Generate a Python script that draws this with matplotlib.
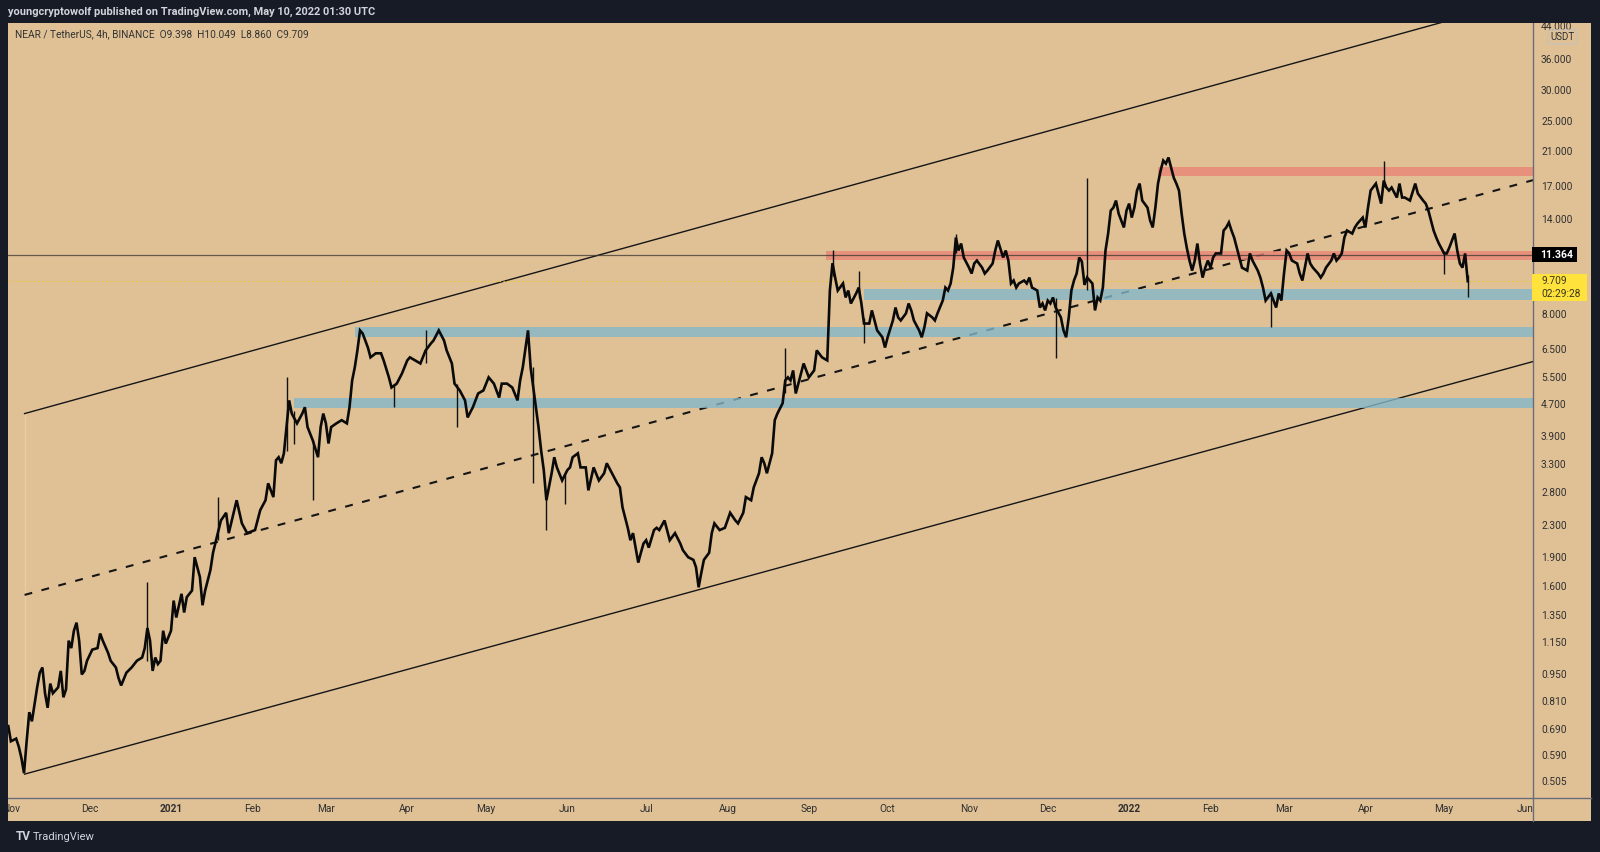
import matplotlib
matplotlib.use("Agg")
import matplotlib.pyplot as plt
import matplotlib.dates as mdates
import matplotlib.transforms as mtransforms
from matplotlib.patches import Rectangle, FancyBboxPatch
from matplotlib.lines import Line2D
from matplotlib.ticker import NullLocator
import numpy as np
import pandas as pd

plt.rcParams['font.family'] = ['Roboto', 'DejaVu Sans']

# ---------------- data ----------------
days_2020_10 = [31]
close_2020_10 = [0.70]
days_2020_11 = [1, 3, 4, 5, 6, 7, 8, 9, 11, 12, 13, 14, 15, 16, 17, 19, 20, 21, 22, 23, 24, 25, 26, 27, 28, 29, 30]
close_2020_11 = [0.64, 0.65, 0.62, 0.58, 0.53, 0.64, 0.76, 0.72, 0.88, 0.96, 0.99, 0.85, 0.78, 0.90, 0.85, 0.88, 0.97, 0.83, 0.87, 1.16, 1.11, 1.23, 1.29, 1.16, 0.95, 0.97, 1.03]
days_2020_12 = [2, 4, 5, 6, 8, 9, 11, 12, 13, 15, 17, 19, 21, 22, 23, 24, 25, 26, 27, 28, 29, 30]
close_2020_12 = [1.10, 1.11, 1.21, 1.16, 1.08, 1.03, 0.99, 0.93, 0.89, 0.96, 0.99, 1.03, 1.05, 1.11, 1.25, 1.16, 0.97, 1.05, 1.01, 1.03, 1.23, 1.14]
days_2021_01 = [1, 2, 3, 5, 6, 7, 9, 10, 12, 13, 14, 16, 17, 18, 20, 22, 23, 26, 28, 30]
close_2021_01 = [1.23, 1.47, 1.33, 1.53, 1.37, 1.50, 1.56, 1.90, 1.69, 1.43, 1.56, 1.76, 1.95, 2.08, 2.36, 2.47, 2.19, 2.66, 2.32, 2.19]
days_2021_02 = [2, 4, 6, 7, 9, 10, 11, 12, 13, 15, 16, 18, 20, 21, 22, 24, 26, 27, 28]
close_2021_02 = [2.23, 2.51, 2.66, 2.94, 2.71, 3.37, 3.43, 3.31, 3.51, 4.80, 4.44, 4.19, 4.44, 4.61, 4.10, 3.79, 3.43, 4.10, 4.44]
days_2021_03 = [1, 2, 3, 5, 7, 9, 10, 11, 12, 13, 14, 15, 17, 18, 20, 22, 23, 25, 26, 28, 30]
close_2021_03 = [4.19, 3.72, 4.10, 4.19, 4.27, 4.19, 4.61, 5.40, 5.83, 6.45, 7.26, 7.13, 6.56, 6.19, 6.34, 6.34, 6.08, 5.50, 5.18, 5.30, 5.63]
days_2021_04 = [1, 2, 4, 6, 8, 10, 11, 13, 15, 16, 18, 19, 21, 23, 24, 26, 28, 30]
close_2021_04 = [6.08, 6.19, 6.08, 5.97, 6.45, 6.72, 6.84, 7.26, 6.84, 6.45, 5.97, 5.30, 5.09, 4.80, 4.34, 4.61, 5.00, 5.09]
days_2021_05 = [2, 4, 6, 7, 9, 11, 13, 14, 15, 17, 18, 20, 21, 22, 23, 24, 26, 27, 28, 30]
close_2021_05 = [5.50, 5.30, 4.88, 5.30, 5.30, 5.18, 4.80, 5.40, 5.83, 7.26, 5.83, 4.61, 4.10, 3.57, 3.18, 2.66, 3.12, 3.43, 3.23, 2.99]
days_2021_06 = [1, 2, 3, 5, 6, 8, 9, 11, 13, 15, 16, 18, 20, 21, 22, 24, 25, 26, 28, 29, 30]
close_2021_06 = [3.18, 3.23, 3.43, 3.51, 3.23, 3.23, 2.82, 3.23, 2.99, 3.12, 3.31, 3.12, 2.94, 2.87, 2.55, 2.26, 2.10, 2.19, 1.84, 1.95, 2.06]
days_2021_07 = [1, 2, 4, 5, 6, 8, 10, 12, 14, 15, 17, 19, 20, 21, 22, 23, 25, 26, 27, 29, 31]
close_2021_07 = [2.10, 2.01, 2.23, 2.26, 2.23, 2.36, 2.10, 2.19, 2.06, 1.98, 1.90, 1.87, 1.79, 1.59, 1.73, 1.87, 1.95, 2.19, 2.32, 2.23, 2.26]
days_2021_08 = [2, 4, 5, 7, 8, 10, 11, 13, 14, 15, 16, 18, 19, 20, 22, 23, 24, 25, 26, 27, 30]
close_2021_08 = [2.47, 2.36, 2.32, 2.47, 2.71, 2.66, 2.87, 3.12, 3.43, 3.31, 3.12, 3.51, 4.27, 4.44, 4.72, 5.40, 5.50, 5.40, 5.73, 5.00, 5.97]
days_2021_09 = [1, 3, 4, 6, 8, 9, 10, 11, 12, 14, 15, 16, 17, 19, 20, 21, 22, 24, 25, 26, 27, 29, 30]
close_2021_09 = [5.50, 5.73, 6.45, 6.19, 6.08, 9.19, 10.80, 9.92, 9.19, 9.58, 8.82, 9.19, 8.51, 9.03, 9.35, 8.51, 7.56, 7.56, 8.17, 7.70, 7.26, 6.97, 6.56]
days_2021_10 = [1, 3, 4, 5, 6, 8, 9, 10, 11, 13, 14, 15, 16, 18, 19, 20, 22, 23, 24, 25, 26, 27, 28, 29, 30]
close_2021_10 = [6.97, 7.70, 8.31, 7.84, 7.70, 8.03, 8.51, 8.17, 7.70, 7.26, 6.97, 7.39, 8.03, 7.84, 7.70, 8.03, 8.66, 9.35, 9.19, 9.58, 10.52, 12.57, 11.64, 12.13, 11.17]
days_2021_11 = [1, 2, 3, 4, 6, 7, 8, 10, 11, 12, 14, 15, 16, 17, 18, 19, 20, 22, 23, 24, 25, 27, 28, 29, 30]
close_2021_11 = [10.52, 10.16, 10.78, 10.97, 10.52, 10.16, 10.34, 10.78, 11.64, 12.35, 11.17, 11.64, 10.97, 9.58, 9.75, 9.35, 9.58, 9.75, 9.58, 9.92, 9.35, 9.19, 8.31, 8.51, 8.17]
days_2021_12 = [1, 2, 3, 4, 6, 7, 8, 9, 10, 11, 12, 13, 14, 15, 16, 18, 19, 20, 21, 22, 23, 24, 25, 26, 27, 28, 30, 31]
close_2021_12 = [8.66, 8.51, 8.82, 8.31, 7.84, 7.26, 6.97, 7.84, 9.19, 9.75, 10.16, 11.17, 10.90, 9.50, 9.92, 9.58, 8.17, 8.82, 8.66, 9.35, 11.64, 12.87, 14.74, 15.00, 15.64, 14.48, 13.34, 14.74]
days_2022_01 = [1, 2, 3, 4, 5, 6, 8, 9, 10, 11, 12, 13, 14, 15, 16, 17, 18, 19, 20, 21, 22, 23, 24, 25, 26, 27, 28, 29, 30, 31]
close_2022_01 = [15.36, 14.14, 15.00, 16.59, 17.29, 15.64, 15.00, 13.90, 13.34, 15.00, 17.29, 18.67, 19.81, 19.46, 20.17, 19.00, 17.90, 17.29, 16.59, 14.48, 12.87, 11.80, 10.97, 10.34, 10.97, 12.13, 10.78, 9.92, 10.52, 10.97]
days_2022_02 = [1, 2, 3, 5, 6, 7, 8, 9, 10, 11, 12, 13, 15, 16, 17, 19, 20, 21, 22, 24, 26, 27, 28]
close_2022_02 = [10.52, 11.17, 11.44, 11.44, 13.10, 13.34, 13.74, 13.10, 12.57, 11.85, 11.17, 10.52, 10.34, 11.44, 10.97, 10.34, 9.92, 9.35, 8.66, 9.03, 8.31, 9.03, 8.66]
days_2022_03 = [1, 2, 3, 4, 6, 7, 8, 10, 11, 12, 14, 15, 16, 17, 19, 20, 21, 22, 23, 24, 25, 27, 28, 29, 31]
close_2022_03 = [10.16, 11.64, 11.44, 10.97, 10.78, 10.16, 9.75, 11.44, 10.78, 10.52, 10.16, 9.92, 10.16, 10.52, 10.97, 11.44, 10.97, 11.17, 11.44, 12.57, 13.10, 12.87, 13.34, 13.66, 14.14]
days_2022_04 = [1, 2, 3, 5, 6, 7, 8, 9, 10, 11, 13, 14, 15, 16, 18, 20, 21, 23, 24, 25, 26, 27, 28, 29]
close_2022_04 = [13.34, 15.00, 16.59, 17.29, 16.30, 15.36, 17.60, 16.89, 16.59, 16.89, 15.92, 17.29, 15.92, 15.92, 15.64, 17.29, 16.30, 15.64, 15.36, 14.74, 13.90, 13.10, 12.57, 12.13]
days_2022_05 = [1, 2, 3, 4, 5, 6, 7, 8, 9, 10]
close_2022_05 = [11.44, 11.44, 11.85, 12.35, 12.87, 11.64, 10.78, 10.52, 11.44, 9.709]

# spikes (wicks) visible on the chart
wick_dates = ['2020-12-23', '2021-01-19', '2021-02-14', '2021-02-17', '2021-02-24', '2021-03-27',
              '2021-04-08', '2021-04-20', '2021-05-19', '2021-05-24', '2021-05-31', '2021-08-23',
              '2021-09-10', '2021-09-20', '2021-09-22', '2021-10-27', '2021-12-04', '2021-12-16',
              '2022-02-24', '2022-04-08', '2022-05-01', '2022-05-10']
wick_lows = [1.03, 2.10, 3.55, 3.72, 2.66, 4.61, 6.00, 4.10, 2.94, 2.23, 2.60, 5.00,
             10.0, 8.80, 6.72, 11.5, 6.15, 9.20, 7.39, 16.9, 10.16, 8.86]
wick_highs = [1.64, 2.71, 5.50, 4.50, 3.80, 5.30, 7.26, 5.30, 5.83, 2.80, 3.10, 6.56,
              11.70, 10.34, 7.80, 12.87, 8.80, 17.9, 9.10, 19.7, 11.60, 10.05]

# parallel channel (start point and a reference date on each line)
channel_start = '2020-11-06 05:00'
channel_ref = '2022-05-01'
upper_prices = [4.44, 45.0]
middle_prices = [1.52, 15.27]
lower_prices = [0.527, 5.23]

# support / resistance zones
zone_start = ['2022-01-12', '2021-09-07 12:00', '2021-09-22', '2021-03-12', '2021-02-17']
zone_low = [18.13, 10.98, 8.71, 6.97, 4.58]
zone_high = [19.12, 11.60, 9.25, 7.39, 4.86]
zone_kind = ['res', 'res', 'sup', 'sup', 'sup']

level_price = 11.364
last_price = 9.709
countdown = '02:29:28'

price_ticks = [44, 36, 30, 25, 21, 17, 14, 8, 6.5, 5.5, 4.7, 3.9, 3.3, 2.8, 2.3, 1.9, 1.6,
               1.35, 1.15, 0.95, 0.81, 0.69, 0.59, 0.505]
month_ticks = ['2020-11-01', '2020-12-01', '2021-01-01', '2021-02-01', '2021-03-01', '2021-04-01',
               '2021-05-01', '2021-06-01', '2021-07-01', '2021-08-01', '2021-09-01', '2021-10-01',
               '2021-11-01', '2021-12-01', '2022-01-01', '2022-02-01', '2022-03-01', '2022-04-01',
               '2022-05-01', '2022-06-01']
month_labels = ['Nov', 'Dec', '2021', 'Feb', 'Mar', 'Apr', 'May', 'Jun', 'Jul', 'Aug', 'Sep', 'Oct',
                'Nov', 'Dec', '2022', 'Feb', 'Mar', 'Apr', 'May', 'Jun']

header_text = 'youngcryptowolf published on TradingView.com, May 10, 2022 01:30 UTC'
symbol_text = 'NEAR / TetherUS, 4h, BINANCE  O9.398  H10.049  L8.860  C9.709'

months = [
    ('2020-10', days_2020_10, close_2020_10), ('2020-11', days_2020_11, close_2020_11),
    ('2020-12', days_2020_12, close_2020_12), ('2021-01', days_2021_01, close_2021_01),
    ('2021-02', days_2021_02, close_2021_02), ('2021-03', days_2021_03, close_2021_03),
    ('2021-04', days_2021_04, close_2021_04), ('2021-05', days_2021_05, close_2021_05),
    ('2021-06', days_2021_06, close_2021_06), ('2021-07', days_2021_07, close_2021_07),
    ('2021-08', days_2021_08, close_2021_08), ('2021-09', days_2021_09, close_2021_09),
    ('2021-10', days_2021_10, close_2021_10), ('2021-11', days_2021_11, close_2021_11),
    ('2021-12', days_2021_12, close_2021_12), ('2022-01', days_2022_01, close_2022_01),
    ('2022-02', days_2022_02, close_2022_02), ('2022-03', days_2022_03, close_2022_03),
    ('2022-04', days_2022_04, close_2022_04), ('2022-05', days_2022_05, close_2022_05),
]
dates, closes = [], []
for ym, dd, cc in months:
    assert len(dd) == len(cc), ym
    for d, c in zip(dd, cc):
        dates.append(pd.Timestamp(f'{ym}-{d:02d}'))
        closes.append(c)
dates = pd.to_datetime(dates)

# ---------------- figure / layout ----------------
W, H, DPI = 1600, 852, 100
DARK = '#171B26'
TAN = '#E0C196'
AXLINE = '#6A6D78'
TXT = '#2F2F2F'

fig = plt.figure(figsize=(W / DPI, H / DPI), dpi=DPI, facecolor=DARK)
L, R, T, B = 8, 1533, 22.5, 797.5
PR, BOT = 1591, 821


def fb(y):
    return 1 - y / H


fig.add_artist(Rectangle((L / W, fb(BOT)), (PR - L) / W, (BOT - T) / H, transform=fig.transFigure,
                         facecolor=TAN, edgecolor='none', zorder=-5))
ax = fig.add_axes([L / W, fb(B), (R - L) / W, (B - T) / H])
ax.set_facecolor(TAN)
for s in ax.spines.values():
    s.set_visible(False)
ax.set_yscale('log')
xmin = mdates.date2num(pd.Timestamp('2020-10-30 21:30'))
xmax = mdates.date2num(pd.Timestamp('2022-06-03 20:40'))
ax.set_xlim(xmin, xmax)
ax.set_ylim(0.459, 44.8)

# channel
t0 = mdates.date2num(pd.Timestamp(channel_start))
t1 = mdates.date2num(pd.Timestamp(channel_ref))


def chan(p):
    slope = (np.log(p[1]) - np.log(p[0])) / (t1 - t0)
    xs = np.array([t0, xmax])
    return xs, np.exp(np.log(p[0]) + slope * (xs - t0))


ax.plot([t0, t0], [lower_prices[0], upper_prices[0]], color='#E8CCA2', lw=1.0, zorder=1)
for pr in (upper_prices, lower_prices):
    xs, ys = chan(pr)
    ax.plot(xs, ys, color='#151515', lw=1.0, zorder=2)
xs, ys = chan(middle_prices)
ax.plot(xs, ys, color='#151515', lw=1.5, dashes=(3.8, 4.6), zorder=2)

# zones
zone_colors = {'res': '#EA8577', 'sup': '#84B8CA'}
for st, lo, hi, kd in zip(zone_start, zone_low, zone_high, zone_kind):
    xs0 = mdates.date2num(pd.Timestamp(st))
    ax.add_patch(Rectangle((xs0, lo), xmax - xs0, hi - lo, facecolor=zone_colors[kd],
                           edgecolor='none', alpha=0.8, zorder=3))

# level lines
ax.axhline(level_price, color='#3A3530', lw=0.9, alpha=0.75, zorder=3.5)
ax.axhline(last_price, color='#F2C81E', lw=0.9, linestyle=(0, (1, 2)), alpha=0.9, zorder=3.5)

# price
ax.vlines(pd.to_datetime(wick_dates), wick_lows, wick_highs, color='#111111', lw=1.0, zorder=4)
ax.plot(dates, closes, color='#0A0A0A', lw=1.9, zorder=5, solid_joinstyle='miter')

# axes ticks
ax.yaxis.tick_right()
ax.set_yticks(price_ticks)
ax.set_yticklabels([f'{v:.3f}' for v in price_ticks])
ax.yaxis.set_minor_locator(NullLocator())
ax.tick_params(axis='y', length=0, pad=5.8, labelsize=7.3, labelcolor=TXT)
ax.set_xticks(mdates.date2num(pd.to_datetime(month_ticks)))
ax.set_xticklabels(month_labels)
ax.tick_params(axis='x', length=0, pad=4.5, labelsize=7.3, labelcolor=TXT)
for lab in ax.get_xticklabels():
    if lab.get_text().isdigit():
        lab.set_fontweight('bold')

# axis lines
fig.add_artist(Line2D([R / W, R / W], [fb(T), fb(BOT)], color=AXLINE, lw=1.0, transform=fig.transFigure, zorder=6))
fig.add_artist(Line2D([L / W, PR / W], [fb(B), fb(B)], color=AXLINE, lw=1.0, transform=fig.transFigure, zorder=6))

# price labels on the scale
ident = mtransforms.IdentityTransform()


def ydisp(p):
    return ax.transData.transform((xmin, p))[1]


yc = ydisp(level_price)
fig.add_artist(Rectangle((1532, yc - 7.5), 45, 15, transform=ident, facecolor='#000000',
                         edgecolor='none', zorder=7))
fig.text(1540 / W, yc / H, f'{level_price:.3f}', color='white', fontsize=7.5, fontweight='bold',
         ha='left', va='center', zorder=8)
yl = ydisp(last_price)
fig.add_artist(Rectangle((1532, yl - 20), 55, 27, transform=ident, facecolor='#FFE23C',
                         edgecolor='none', zorder=7))
fig.text(1541 / W, yl / H, f'{last_price:.3f}', color='#3A3520', fontsize=7.3, ha='left', va='center', zorder=8)
fig.text(1541 / W, (yl - 12.5) / H, countdown, color='#3A3520', fontsize=7.3, ha='left', va='center', zorder=8)

# USDT tag
fig.add_artist(FancyBboxPatch((1548 / W, fb(44)), 29 / W, 14 / H, transform=fig.transFigure,
                              boxstyle='round,pad=0,rounding_size=0.002', facecolor=TAN,
                              edgecolor='#C9C2B5', lw=1.0, zorder=8))
fig.text(1562.5 / W, fb(37), 'USDT', color=TXT, fontsize=7.0, ha='center', va='center', zorder=9)

# frame bands over everything
fig.add_artist(Rectangle((0, fb(22.5)), 1, 22.5 / H, transform=fig.transFigure, facecolor=DARK,
                         edgecolor='none', zorder=10))
fig.add_artist(Rectangle((0, 0), L / W, 1, transform=fig.transFigure, facecolor=DARK,
                         edgecolor='none', zorder=10))

fig.text(8 / W, fb(11.5), header_text, color='#D1D4DC', fontsize=7.9, fontweight='bold',
         ha='left', va='center', zorder=11)
fig.text(15 / W, fb(34), symbol_text, color='#333333', fontsize=7.3, ha='left', va='center', zorder=9)
fig.text(16 / W, fb(837), 'TV', color='#D1D4DC', fontsize=8.5, fontweight='bold', ha='left',
         va='center', zorder=11)
fig.text(33 / W, fb(837), 'TradingView', color='#D1D4DC', fontsize=8.0, ha='left', va='center', zorder=11)

fig.savefig('out.png', dpi=DPI, facecolor=DARK)
